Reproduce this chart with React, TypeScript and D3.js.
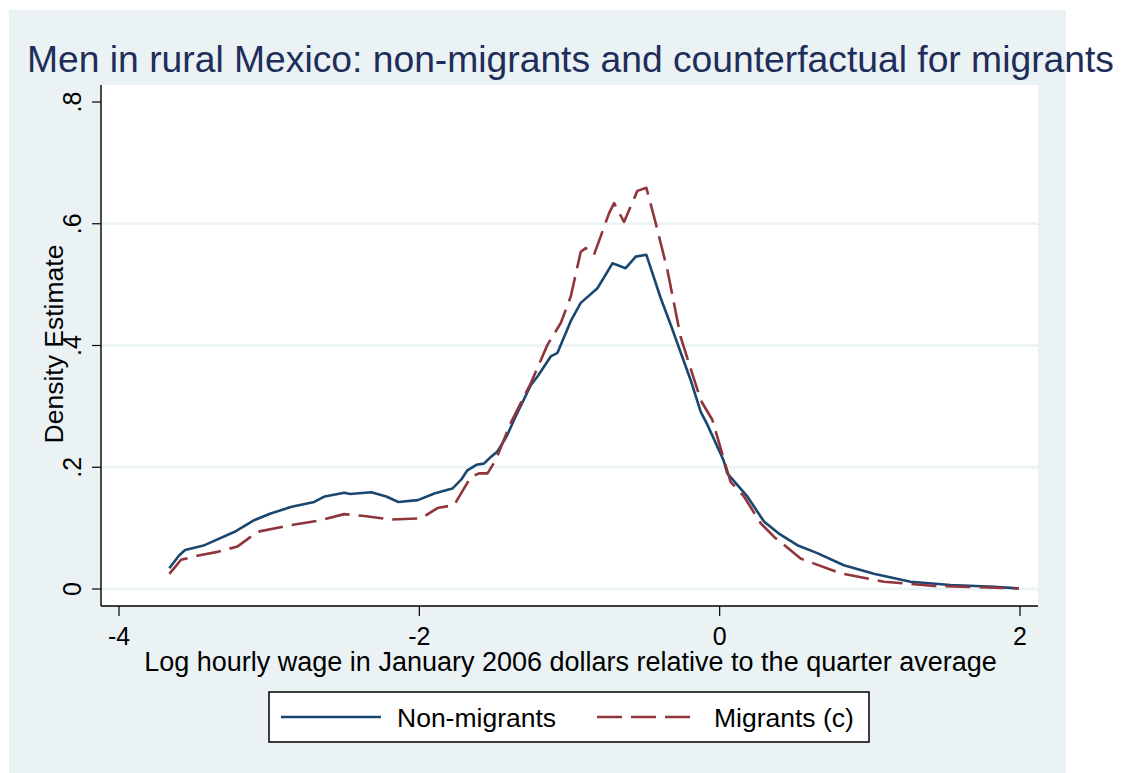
import React from "react";
import * as d3 from "d3";

const TITLE = "Men in rural Mexico: non-migrants and counterfactual for migrants";
const X_TITLE = "Log hourly wage in January 2006 dollars relative to the quarter average";
const Y_TITLE = "Density Estimate";
const X_TICKS = [-4, -2, 0, 2];
const X_TICK_LABELS = ["-4", "-2", "0", "2"];
const Y_TICKS = [0, 0.2, 0.4, 0.6, 0.8];
const Y_TICK_LABELS = ["0", ".2", ".4", ".6", ".8"];
const Y_GRID = [0, 0.2, 0.4, 0.6];
const SERIES_NAMES = ["Non-migrants", "Migrants (c)"];

const nonMigrantsX = [
  -3.665, -3.6, -3.56, -3.43, -3.23, -3.1, -2.99, -2.85, -2.7, -2.63, -2.5, -2.46, -2.32, -2.22, -2.14, -2.01,
  -1.9, -1.78, -1.72, -1.68, -1.62, -1.57, -1.524, -1.48, -1.42, -1.369, -1.258, -1.213, -1.125, -1.08, -0.992,
  -0.925, -0.814, -0.714, -0.626, -0.559, -0.488, -0.393, -0.326, -0.193, -0.126, -0.082, 0.025,
  0.051, 0.184, 0.295, 0.4, 0.517, 0.65, 0.827, 1.027, 1.271, 1.537, 1.826, 1.992,
];
const nonMigrantsY = [
  0.034, 0.055, 0.064, 0.072, 0.094, 0.113, 0.124, 0.135, 0.143, 0.152, 0.158, 0.156, 0.159, 0.152, 0.143, 0.146,
  0.157, 0.165, 0.18, 0.195, 0.204, 0.206, 0.217, 0.226, 0.25, 0.278, 0.335, 0.349, 0.382, 0.388, 0.44,
  0.47, 0.494, 0.535, 0.527, 0.546, 0.549, 0.478, 0.434, 0.343, 0.291, 0.27, 0.212,
  0.19, 0.152, 0.111, 0.09, 0.072, 0.059, 0.039, 0.025, 0.012, 0.0066, 0.0038, 0.001,
];

const migrantsX = [
  -3.665, -3.62, -3.587, -3.454, -3.343, -3.21, -3.077, -2.855, -2.655, -2.501, -2.367, -2.19, -1.99,
  -1.879, -1.768, -1.657, -1.602, -1.546, -1.491, -1.391, -1.258, -1.147, -1.058, -0.992, -0.925,
  -0.892, -0.837, -0.737, -0.703, -0.637, -0.548, -0.488, -0.426, -0.348, -0.26, -0.126, -0.049,
  0.029, 0.073, 0.162, 0.273, 0.361, 0.539, 0.805, 1.094, 1.426, 1.992,
];
const migrantsY = [
  0.025, 0.038, 0.048, 0.056, 0.061, 0.07, 0.094, 0.105, 0.113, 0.123, 0.12, 0.114, 0.116,
  0.133, 0.138, 0.184, 0.19, 0.19, 0.212, 0.273, 0.338, 0.401, 0.437, 0.48, 0.554,
  0.56, 0.549, 0.617, 0.634, 0.603, 0.654, 0.659, 0.601, 0.524, 0.414, 0.31, 0.278,
  0.212, 0.176, 0.152, 0.108, 0.086, 0.05, 0.0257, 0.012, 0.005, 0.001,
];

const W = 1123;
const H = 773;
const FONT = "'Liberation Sans', Arial, Helvetica, sans-serif";
const BG = "#eaf2f3";
const BLUE = "#1a476f";
const RED = "#90353b";

export default function App() {
  const plotL = 101;
  const plotR = 1038;
  const plotT = 85;
  const plotB = 606;

  const x = d3.scaleLinear().domain([-4, 2]).range([119, 1020]);
  const y = d3.scaleLinear().domain([0, 0.8]).range([589, 102]);

  const line = d3
    .line<[number, number]>()
    .x((d) => x(d[0]))
    .y((d) => y(d[1]))
    .curve(d3.curveLinear);

  const nonPts: [number, number][] = nonMigrantsX.map((v, i) => [v, nonMigrantsY[i]]);
  const migPts: [number, number][] = migrantsX.map((v, i) => [v, migrantsY[i]]);

  const dash = "25,9";

  return (
    <svg
      width={W}
      height={H}
      style={{ position: "absolute", left: 0, top: 0, display: "block" }}
      fontFamily={FONT}
    >
      <rect x={0} y={0} width={W} height={H} fill="#ffffff" />
      <rect x={9} y={10} width={1057} height={763} fill={BG} />
      <rect x={plotL} y={plotT} width={plotR - plotL} height={plotB - plotT} fill="#ffffff" />

      {Y_GRID.map((t) => (
        <line key={"g" + t} x1={plotL} x2={plotR} y1={y(t)} y2={y(t)} stroke={BG} strokeWidth={2.5} />
      ))}

      <path d={line(nonPts) || ""} fill="none" stroke={BLUE} strokeWidth={2.6} strokeLinejoin="round" />
      <path
        d={line(migPts) || ""}
        fill="none"
        stroke={RED}
        strokeWidth={2.6}
        strokeDasharray={dash}
        strokeLinejoin="round"
      />

      {/* axes */}
      <line x1={plotL} x2={plotL} y1={plotT} y2={plotB} stroke="#000" strokeWidth={1.4} />
      <line x1={plotL} x2={plotR} y1={plotB} y2={plotB} stroke="#000" strokeWidth={1.4} />

      {Y_TICKS.map((t, i) => (
        <g key={"yt" + t}>
          <line x1={plotL - 9} x2={plotL} y1={y(t)} y2={y(t)} stroke="#000" strokeWidth={1.2} />
          <text
            transform={`translate(81,${y(t)}) rotate(-90)`}
            textAnchor="middle"
            fontSize={25}
            fill="#000"
          >
            {Y_TICK_LABELS[i]}
          </text>
        </g>
      ))}

      {X_TICKS.map((t, i) => (
        <g key={"xt" + t}>
          <line x1={x(t)} x2={x(t)} y1={plotB} y2={plotB + 10} stroke="#000" strokeWidth={1.2} />
          <text x={x(t)} y={645} textAnchor="middle" fontSize={25} fill="#000">
            {X_TICK_LABELS[i]}
          </text>
        </g>
      ))}

      <text x={(plotL + plotR) / 2 + 1} y={671} textAnchor="middle" fontSize={27} fill="#000">
        {X_TITLE}
      </text>
      <text transform={`translate(63,344) rotate(-90)`} textAnchor="middle" fontSize={26.5} fill="#000">
        {Y_TITLE}
      </text>

      <text x={27} y={72} fontSize={37.25} fill="#1e2d5a">
        {TITLE}
      </text>

      {/* legend */}
      <rect x={269} y={692} width={600} height={50} fill="#ffffff" stroke="#000" strokeWidth={1.5} />
      <line x1={281} x2={381} y1={717} y2={717} stroke={BLUE} strokeWidth={2.6} />
      <text x={397} y={727} fontSize={26.5} fill="#000">
        {SERIES_NAMES[0]}
      </text>
      <line x1={597} x2={697} y1={717} y2={717} stroke={RED} strokeWidth={2.6} strokeDasharray={dash} />
      <text x={714} y={727} fontSize={26.5} fill="#000">
        {SERIES_NAMES[1]}
      </text>
    </svg>
  );
}
